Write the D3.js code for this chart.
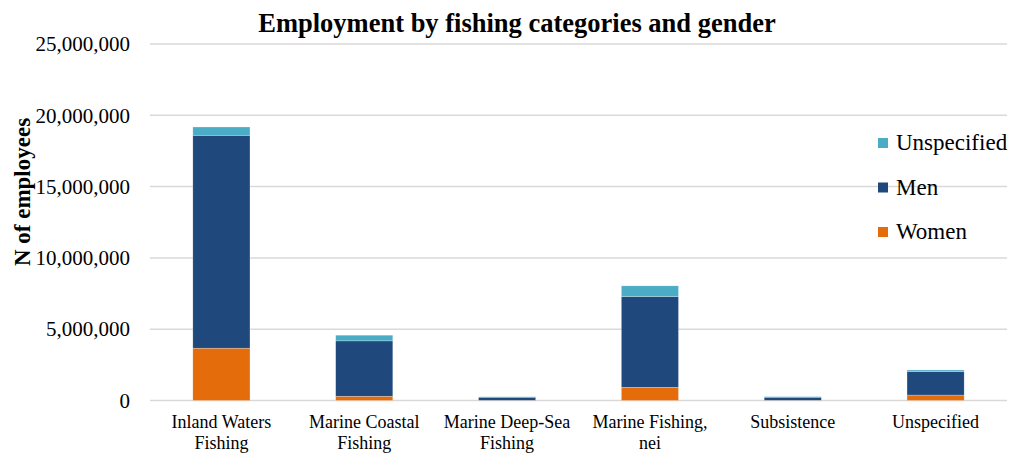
<!DOCTYPE html>
<html>
<head>
<meta charset="utf-8">
<script src="https://cdn.jsdelivr.net/npm/d3@7"></script>
<style>
  body { margin: 0; background: #fff; }
  svg text { font-family: "Liberation Serif", "Times New Roman", serif; fill: #000; }
</style>
</head>
<body>
<div class="chart-container"></div>
<script>
const categories = [
  ["Inland Waters", "Fishing"],
  ["Marine Coastal", "Fishing"],
  ["Marine Deep-Sea", "Fishing"],
  ["Marine Fishing,", "nei"],
  ["Subsistence"],
  ["Unspecified"]
];
const women = [3670000, 300000, 10000, 930000, 10000, 380000];
const men = [14930000, 3880000, 220000, 6360000, 220000, 1640000];
const unspecified = [580000, 400000, 30000, 750000, 40000, 120000];
const yTicks = [0, 5000000, 10000000, 15000000, 20000000, 25000000];
const seriesNames = ["Women", "Men", "Unspecified"];
const colors = { Women: "#e46c0a", Men: "#1f497d", Unspecified: "#4bacc6" };

class StackedChart {
  constructor() {
    this.margin = { top: 44, right: 7, bottom: 52.5, left: 150 };
    this.width = 1014;
    this.height = 453;

    this.data = categories.map((c, i) => {
      return { key: c.join(" "), lines: c, Women: women[i], Men: men[i], Unspecified: unspecified[i] };
    });

    this.setupSvg();
  }

  setupSvg() {
    this.svg = d3.select(".chart-container")
      .append("svg")
      .attr("width", this.width)
      .attr("height", this.height);

    this.xScale = d3.scaleBand()
      .domain(this.data.map(d => d.key))
      .range([this.margin.left, this.width - this.margin.right])
      .paddingInner(0.6)
      .paddingOuter(0.3);

    this.yScale = d3.scaleLinear()
      .domain([0, 25000000])
      .range([this.height - this.margin.bottom, this.margin.top]);

    // gridlines
    this.svg.append("g")
      .selectAll("line")
      .data(yTicks)
      .enter().append("line")
      .attr("x1", this.margin.left)
      .attr("x2", this.width - this.margin.right)
      .attr("y1", d => this.yScale(d))
      .attr("y2", d => this.yScale(d))
      .attr("stroke", "#d9d9d9")
      .attr("stroke-width", 1.5);

    const yAxis = d3.axisLeft(this.yScale)
      .tickValues(yTicks)
      .tickFormat(d3.format(","))
      .tickSize(0)
      .tickPadding(20);

    this.svg.append("g")
      .attr("transform", `translate(${this.margin.left}, 0)`)
      .call(yAxis)
      .attr("font-family", "'Liberation Serif', serif")
      .attr("font-size", 21)
      .call(g => g.select(".domain").remove())
      .selectAll("text")
      .attr("font-family", "'Liberation Serif', serif")
      .style("font-family", "'Liberation Serif', serif")
      .style("font-size", "21px");

    const stack = d3.stack().keys(seriesNames);
    const layers = stack(this.data);

    this.svg.append("g")
      .selectAll("g")
      .data(layers)
      .enter().append("g")
      .attr("fill", d => colors[d.key])
      .selectAll("rect")
      .data(d => d)
      .enter().append("rect")
      .attr("x", d => this.xScale(d.data.key))
      .attr("y", d => this.yScale(d[1]))
      .attr("width", this.xScale.bandwidth())
      .attr("height", d => this.yScale(d[0]) - this.yScale(d[1]))
      .attr("stroke", "#ffffff")
      .attr("stroke-opacity", 0.5)
      .attr("stroke-width", 0.5);

    // category labels
    const xLabels = this.svg.append("g")
      .selectAll("text")
      .data(this.data)
      .enter().append("text")
      .attr("text-anchor", "middle")
      .attr("x", d => this.xScale(d.key) + this.xScale.bandwidth() / 2)
      .attr("y", 428)
      .style("font-size", "18px");
    xLabels.selectAll("tspan")
      .data(d => d.lines)
      .enter().append("tspan")
      .attr("x", function () { return d3.select(this.parentNode).attr("x"); })
      .attr("dy", (d, i) => i === 0 ? 0 : 21)
      .text(d => d);

    // title
    this.svg.append("text")
      .attr("x", 517)
      .attr("y", 32)
      .attr("text-anchor", "middle")
      .style("font-size", "26.5px")
      .style("font-weight", "bold")
      .text("Employment by fishing categories and gender");

    // y label
    this.svg.append("g")
      .attr("transform", `translate(30, 192)`)
      .append("text")
      .attr("text-anchor", "middle")
      .attr("transform", "rotate(-90)")
      .style("font-size", "23px")
      .style("font-weight", "bold")
      .text("N of employees");

    // legend
    const legendItems = ["Unspecified", "Men", "Women"];
    const legend = this.svg.append("g")
      .selectAll("g")
      .data(legendItems)
      .enter().append("g")
      .attr("transform", (d, i) => `translate(878, ${143 + i * 44.5})`);
    legend.append("rect")
      .attr("x", 0)
      .attr("y", -5)
      .attr("width", 10)
      .attr("height", 10)
      .attr("fill", d => colors[d]);
    legend.append("text")
      .attr("x", 18)
      .attr("y", 7)
      .style("font-size", "23px")
      .text(d => d);
  }
}

new StackedChart();
</script>
</body>
</html>
